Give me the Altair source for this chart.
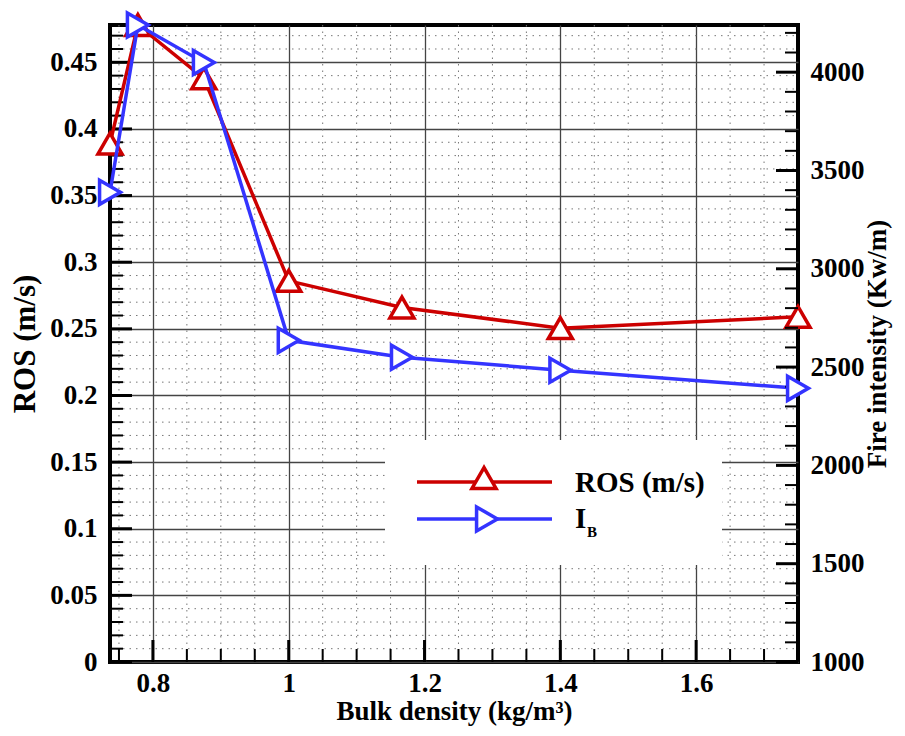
import altair as alt
import pandas as pd

# ---- data ----
DENSITY = [0.7368, 0.7778, 0.875, 1.0, 1.1667, 1.4, 1.75]
ROS = [0.389, 0.478, 0.438, 0.286, 0.266, 0.2505, 0.259]
IB = [3389, 4240, 4049, 2636, 2550, 2484, 2392]

X_DOMAIN = [0.7368, 1.75]
YL_DOMAIN = [0, 0.478]
YR_DOMAIN = [1000, 4240]

X_MAJOR = [0.8, 1.0, 1.2, 1.4, 1.6]
X_MINOR = [0.75, 0.85, 0.9, 0.95, 1.05, 1.1, 1.15, 1.25, 1.3, 1.35, 1.45, 1.5, 1.55, 1.65, 1.7]
YL_MAJOR = [0, 0.05, 0.1, 0.15, 0.2, 0.25, 0.3, 0.35, 0.4, 0.45]
YL_MINOR = [round(i / 100, 2) for i in range(1, 48) if i % 5 != 0]
YR_MAJOR = [1000, 1500, 2000, 2500, 3000, 3500, 4000]
YR_MINOR = [v for v in range(1100, 4240, 100) if v % 500 != 0]

LEGEND_LABELS = ["ROS (m/s)", "I", "B"]

RED = "#cc0000"
BLUE = "#3434ff"
FONT = "Liberation Serif"
W, H = 688, 637
MSIZE = 580
LW = 3.5

xs = alt.Scale(domain=X_DOMAIN, nice=False, zero=False)
yls = alt.Scale(domain=YL_DOMAIN, nice=False, zero=False)
yrs = alt.Scale(domain=YR_DOMAIN, nice=False, zero=False)

xaxis = alt.Axis(values=X_MAJOR, format="~g", grid=True, gridColor="#444", gridWidth=1.3,
                 ticks=False, domain=False, labelFont=FONT, labelFontWeight="bold", labelFontSize=27,
                 labelPadding=8, labelColor="black", title="Bulk density (kg/m³)", titleFont=FONT,
                 titleFontWeight="bold", titleFontSize=27, titlePadding=2, titleColor="black")
ylaxis = alt.Axis(values=YL_MAJOR, format="~g", grid=True, gridColor="#444", gridWidth=1.3,
                  ticks=False, domain=False, labelFont=FONT, labelFontWeight="bold", labelFontSize=27,
                  labelPadding=13, labelColor="black", title="ROS (m/s)", titleFont=FONT,
                  titleFontWeight="bold", titleFontSize=31, titlePadding=8, titleColor="black")
yraxis = alt.Axis(orient="right", values=YR_MAJOR, format="d", grid=False,
                  ticks=False, domain=False, labelFont=FONT, labelFontWeight="bold", labelFontSize=27,
                  labelPadding=12, labelColor="black", title="Fire intensity (Kw/m)", titleFont=FONT,
                  titleFontWeight="bold", titleFontSize=27, titlePadding=0, titleColor="black",
                  titleAngle=270, titleBaseline="top")

df = pd.DataFrame({"density": DENSITY, "ros": ROS, "ib": IB})


def vals(v):
    return pd.DataFrame({"v": v})


one = pd.DataFrame({"k": [0]})


def X(f):
    return alt.X(f, scale=xs, axis=xaxis)


def YL(f):
    return alt.Y(f, scale=yls, axis=ylaxis)


def YR(f):
    return alt.Y(f, scale=yrs, axis=yraxis)


# ---- grids ----
vminor = alt.Chart(vals(X_MINOR)).mark_rule(color="#777", strokeWidth=1, strokeDash=[1.5, 5]).encode(
    x=X("v:Q"), y=alt.value(0), y2=alt.value(H))
hminor = alt.Chart(vals(YL_MINOR)).mark_rule(color="#777", strokeWidth=1, strokeDash=[1.5, 5]).encode(
    y=YL("v:Q"), x=alt.value(0), x2=alt.value(W))

# ---- inward ticks ----
bmaj = alt.Chart(vals(X_MAJOR)).mark_rule(color="black", strokeWidth=3).encode(
    x=X("v:Q"), y=alt.value(H), y2=alt.value(H - 22))
bmin = alt.Chart(vals(X_MINOR)).mark_rule(color="black", strokeWidth=2).encode(
    x=X("v:Q"), y=alt.value(H), y2=alt.value(H - 13))
lmaj = alt.Chart(vals(YL_MAJOR)).mark_rule(color="black", strokeWidth=3).encode(
    y=YL("v:Q"), x=alt.value(0), x2=alt.value(22))
lmin = alt.Chart(vals(YL_MINOR)).mark_rule(color="black", strokeWidth=2).encode(
    y=YL("v:Q"), x=alt.value(0), x2=alt.value(13))
rmaj = alt.Chart(vals(YR_MAJOR)).mark_rule(color="black", strokeWidth=3).encode(
    y=YR("v:Q"), x=alt.value(W), x2=alt.value(W - 22))
rmin = alt.Chart(vals(YR_MINOR)).mark_rule(color="black", strokeWidth=2).encode(
    y=YR("v:Q"), x=alt.value(W), x2=alt.value(W - 13))

# ---- legend (drawn) ----
lbox = alt.Chart(one).mark_rect(color="white").encode(
    x=alt.value(275), x2=alt.value(612), y=alt.value(415), y2=alt.value(540))
lred = alt.Chart(one).mark_rule(color=RED, strokeWidth=LW).encode(
    x=alt.value(307), x2=alt.value(442), y=alt.value(457))
lredp = alt.Chart(one).mark_point(shape="triangle-up", filled=True, fill="white", stroke=RED,
                                  strokeWidth=LW, size=MSIZE, opacity=1).encode(
    x=alt.value(374), y=alt.value(453))
lblue = alt.Chart(one).mark_rule(color=BLUE, strokeWidth=LW).encode(
    x=alt.value(307), x2=alt.value(442), y=alt.value(494))
lbluep = alt.Chart(one).mark_point(shape="triangle-right", filled=True, fill="white", stroke=BLUE,
                                   strokeWidth=LW, size=MSIZE, opacity=1).encode(
    x=alt.value(377), y=alt.value(494))
ltxt1 = alt.Chart(pd.DataFrame({"t": [LEGEND_LABELS[0]]})).mark_text(
    align="left", baseline="alphabetic", font=FONT, fontWeight="bold", fontSize=29, color="black").encode(
    x=alt.value(465), y=alt.value(467), text="t:N")
ltxt2 = alt.Chart(pd.DataFrame({"t": [LEGEND_LABELS[1]]})).mark_text(
    align="left", baseline="alphabetic", font=FONT, fontWeight="bold", fontSize=29, color="black").encode(
    x=alt.value(465), y=alt.value(503), text="t:N")
ltxt3 = alt.Chart(pd.DataFrame({"t": [LEGEND_LABELS[2]]})).mark_text(
    align="left", baseline="alphabetic", font=FONT, fontWeight="bold", fontSize=15, color="black").encode(
    x=alt.value(477), y=alt.value(512), text="t:N")

# ---- series ----
ros_line = alt.Chart(df).mark_line(color=RED, strokeWidth=LW).encode(
    x=X("density:Q"), y=YL("ros:Q"))
ros_pts = alt.Chart(df).mark_point(shape="triangle-up", filled=True, fill="white", stroke=RED,
                                   strokeWidth=LW, size=MSIZE, opacity=1).encode(
    x=X("density:Q"), y=YL("ros:Q"))

ib_line = alt.Chart(df).mark_line(color=BLUE, strokeWidth=LW).encode(
    x=X("density:Q"), y=YR("ib:Q"))
ib_pts = alt.Chart(df).mark_point(shape="triangle-right", filled=True, fill="white", stroke=BLUE,
                                  strokeWidth=LW, size=MSIZE, opacity=1).encode(
    x=X("density:Q"), y=YR("ib:Q"))

left = alt.layer(hminor, vminor, lbox, bmaj, bmin, lmaj, lmin,
                 lred, lblue, lredp, lbluep, ltxt1, ltxt2, ltxt3, ros_line, ros_pts)
right = alt.layer(ib_line, rmaj, rmin, ib_pts)

chart = alt.layer(left, right).resolve_scale(y="independent").properties(
    width=W, height=H,
    autosize=alt.AutoSizeParams(type="none"),
    padding={"left": 102, "top": 17, "right": 99, "bottom": 66},
).configure_view(stroke="black", strokeWidth=4)

chart.save("out.html", embed_options={"renderer": "svg", "actions": False})
